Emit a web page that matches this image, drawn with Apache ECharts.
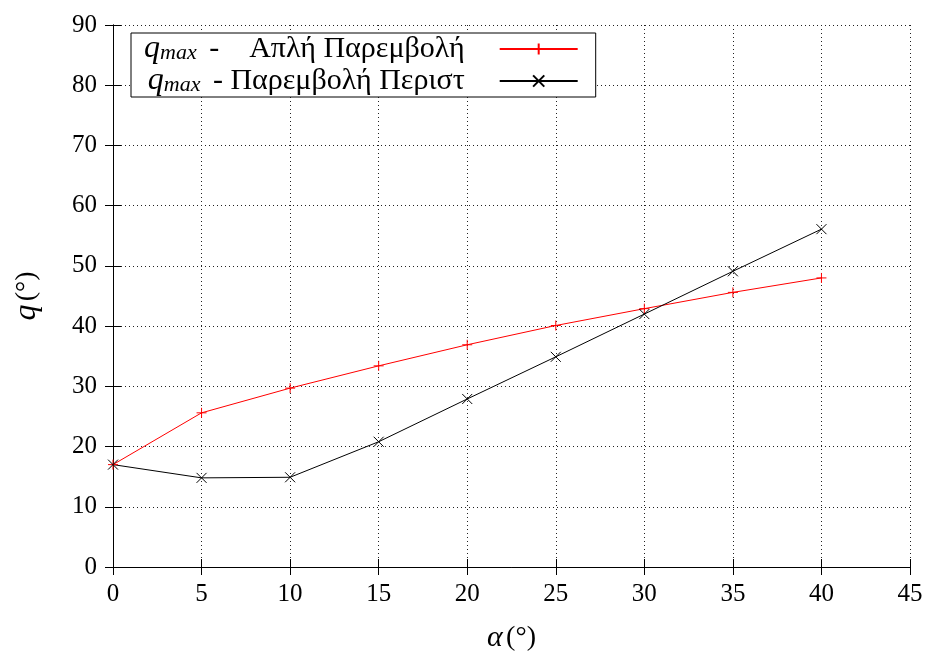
<!DOCTYPE html>
<html>
<head>
<meta charset="utf-8">
<script src="https://cdn.jsdelivr.net/npm/echarts@6/dist/echarts.min.js"></script>
<style>html,body{margin:0;padding:0;background:#fff}#c{width:930px;height:659px}</style>
</head>
<body>
<div id="c"></div>
<script>
const alphaValues = [0, 5, 10, 15, 20, 25, 30, 35, 40];
const qSimple = [17.0, 25.6, 29.7, 33.4, 36.9, 40.1, 42.9, 45.6, 48.0];
const qPiecewise = [17.0, 14.8, 14.9, 20.8, 27.9, 34.9, 42.0, 49.1, 56.1];
const seriesNames = ['simple', 'piecewise'];
const legendTexts = {
  simple: '{q|q}{s|max}{t| -    Απλή Παρεμβολή}',
  piecewise: '{q|q}{s|max}{t| - Παρεμβολή Περιστ}'
};

const FONT = '"Liberation Serif", "DejaVu Serif", serif';
const chart = echarts.init(document.getElementById('c'), null, {renderer: 'canvas'});

const plusPath = 'path://M5,0L5,10M0,5L10,5';
const crossPath = 'path://M0,0L10,10M0,10L10,0';

function pairs(xs, ys) { return xs.map((x, i) => [x, ys[i]]); }

const mirrorAxisCommon = {
  axisLine: {show: true, lineStyle: {color: '#000', width: 1}},
  axisTick: {show: true, inside: true, length: 8, lineStyle: {color: '#000'}},
  axisLabel: {show: false},
  splitLine: {show: false}
};

chart.setOption({
  animation: false,
  backgroundColor: '#fff',
  grid: {left: 113, right: 20, top: 25, bottom: 92, containLabel: false},
  legend: {
    data: seriesNames,
    left: 131, top: 33,
    orient: 'vertical',
    align: 'right',
    itemWidth: 78,
    itemHeight: 14,
    itemGap: 0,
    padding: [0, 17, 0, 13],
    backgroundColor: '#fff',
    borderColor: '#000',
    borderWidth: 1,
    borderRadius: 0,
    formatter: n => legendTexts[n],
    textStyle: {
      fontFamily: FONT, fontSize: 30, color: '#000',
      rich: {
        q: {fontFamily: FONT, fontStyle: 'italic', fontSize: 32, color: '#000', lineHeight: 30},
        s: {fontFamily: FONT, fontStyle: 'italic', fontSize: 22, color: '#000', verticalAlign: 'bottom', padding: [9, 5, 0, 0]},
        t: {fontFamily: FONT, fontSize: 30, color: '#000', padding: [0, 30, 0, 0]}
      }
    }
  },
  xAxis: [{
    type: 'value', min: 0, max: 45, interval: 5,
    name: '{a|α} {b|(°)}', nameLocation: 'middle', nameGap: 56,
    nameTextStyle: {rich: {a: {fontFamily: FONT, fontStyle: 'italic', fontSize: 30, color: '#000'}, b: {fontFamily: FONT, fontSize: 28, color: '#000'}}},
    axisLine: {show: true, onZero: false, lineStyle: {color: '#000', width: 1}},
    axisTick: {show: true, inside: true, length: 8, lineStyle: {color: '#000'}},
    axisLabel: {fontFamily: FONT, fontSize: 25, color: '#000', margin: 15},
    splitLine: {show: true, lineStyle: {color: '#222', type: [1, 3], width: 1}}
  }, Object.assign({type: 'value', min: 0, max: 45, interval: 5, position: 'top'}, mirrorAxisCommon)],
  yAxis: [{
    type: 'value', min: 0, max: 90, interval: 10,
    name: '{a|q} {b|(°)}', nameLocation: 'middle', nameGap: 70, nameRotate: 90,
    nameTextStyle: {rich: {a: {fontFamily: FONT, fontStyle: 'italic', fontSize: 32, color: '#000'}, b: {fontFamily: FONT, fontSize: 28, color: '#000'}}},
    axisLine: {show: true, onZero: false, lineStyle: {color: '#000', width: 1}},
    axisTick: {show: true, inside: true, length: 8, lineStyle: {color: '#000'}},
    axisLabel: {fontFamily: FONT, fontSize: 25, color: '#000', margin: 16},
    splitLine: {show: true, lineStyle: {color: '#222', type: [1, 3], width: 1}}
  }, Object.assign({type: 'value', min: 0, max: 90, interval: 10, position: 'right'}, mirrorAxisCommon)],
  series: [{
    name: 'simple', type: 'line', data: pairs(alphaValues, qSimple),
    xAxisIndex: 0, yAxisIndex: 0,
    symbol: plusPath, symbolSize: 10, showAllSymbol: true,
    lineStyle: {color: '#ff0000', width: 1},
    itemStyle: {color: '#ff0000', borderColor: '#ff0000', borderWidth: 1},
    emphasis: {disabled: true}
  }, {
    name: 'piecewise', type: 'line', data: pairs(alphaValues, qPiecewise),
    xAxisIndex: 0, yAxisIndex: 0,
    symbol: crossPath, symbolSize: 10, showAllSymbol: true,
    lineStyle: {color: '#000', width: 1},
    itemStyle: {color: '#000', borderColor: '#000', borderWidth: 1},
    emphasis: {disabled: true}
  }]
});
</script>
</body>
</html>
